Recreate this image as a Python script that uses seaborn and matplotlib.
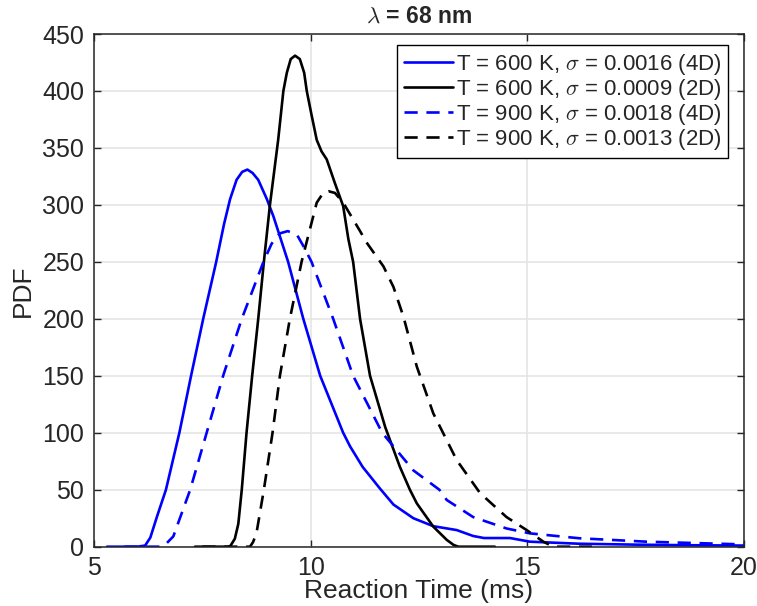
import numpy as np
import pandas as pd
import matplotlib
matplotlib.use("Agg")
import matplotlib.pyplot as plt
import seaborn as sns

# ---- data ----
x_600_4d = [5.3, 6.0, 6.18, 6.3, 6.45, 6.66, 6.97, 7.24, 7.52, 7.82, 8.0, 8.14, 8.29, 8.42, 8.54, 8.66,
            8.79, 8.99, 9.14, 9.48, 9.83, 10.22, 10.75, 10.91, 11.2, 11.6, 11.91, 12.37, 12.83, 13.37,
            13.75, 14.0, 14.6, 15.06, 16.2, 17.5, 18.7, 20.0]
y_600_4d = [0, 0, 1, 8, 26, 50, 100, 150, 200, 250, 283, 305, 322, 329, 331, 328,
            322, 305, 290, 250, 200, 150, 100, 88, 70, 51, 37, 25, 18, 14.6,
            9.4, 7.6, 7.6, 4.4, 2.6, 1.8, 1.3, 1]

x_600_2d = [7.33, 8.1, 8.15, 8.25, 8.33, 8.41, 8.52, 8.65, 8.79, 8.92, 9.06, 9.25, 9.37, 9.45, 9.54,
            9.64, 9.75, 9.85, 9.91, 10.02, 10.14, 10.25, 10.37, 10.56, 10.75, 10.87, 10.98, 11.14,
            11.37, 11.72, 12.06, 12.29, 12.45, 12.83, 13.14, 13.3, 13.41, 14.25]
y_600_2d = [0, 0, 0.8, 7, 20, 50, 100, 150, 200, 250, 300, 357, 400, 416, 428,
            431, 428, 416, 400, 379, 357, 347, 340, 319, 299, 270, 250, 200,
            150, 105, 70, 50, 38, 17.6, 6, 1.5, 0, 0]

x_900_4d = [5.7, 6.52, 6.65, 6.83, 7.22, 7.6, 7.98, 8.41, 8.91, 9.1, 9.29, 9.47, 9.68, 9.83, 10.02,
            10.52, 10.98, 11.65, 12.37, 12.97, 13.14, 13.75, 14.52, 15.06, 16.2, 17.75, 20.0]
y_900_4d = [0, 0, 2, 9, 50, 100, 150, 200, 250, 266, 275, 277, 274, 264, 250,
            200, 150, 100, 67, 50, 41, 26, 16, 11.7, 7.4, 4.4, 2]

x_900_2d = [7.5, 8.6, 8.67, 8.75, 8.92, 9.12, 9.29, 9.52, 9.79, 10.14, 10.29, 10.41, 10.56, 10.75,
            11.14, 11.29, 11.68, 11.91, 12.14, 12.45, 12.83, 13.37, 13.91, 14.52, 14.98, 15.37, 15.6,
            16.49]
y_900_2d = [0, 0, 4, 12, 50, 100, 150, 200, 250, 302, 310.5, 312, 310.5, 302,
            277, 267, 246, 228, 202, 158, 117, 76, 47, 26, 14.7, 4.4, 0,
            0]

labels = [r"T = 600 K, $\sigma$ = 0.0016 (4D)",
          r"T = 600 K, $\sigma$ = 0.0009 (2D)",
          r"T = 900 K, $\sigma$ = 0.0018 (4D)",
          r"T = 900 K, $\sigma$ = 0.0013 (2D)"]
x_ticks = [5, 10, 15, 20]
y_ticks = [0, 50, 100, 150, 200, 250, 300, 350, 400, 450]

# ---- style ----
sns.set_style("ticks")
plt.rcParams["font.family"] = ["Liberation Sans", "DejaVu Sans"]
plt.rcParams["mathtext.fontset"] = "cm"

fig = plt.figure(figsize=(7.57, 6.06), dpi=100)
ax = fig.add_axes([94 / 757, 1 - 546.7 / 606, 650 / 757, 512.7 / 606])

series = [
    (x_600_4d, y_600_4d, "#0000ff", "-"),
    (x_600_2d, y_600_2d, "#000000", "-"),
    (x_900_4d, y_900_4d, "#0000ff", "--"),
    (x_900_2d, y_900_2d, "#000000", "--"),
]
DASH = (5, 3.3)
for (xs, ys, c, ls), lab in zip(series, labels):
    df = pd.DataFrame({"x": xs, "y": ys})
    sns.lineplot(data=df, x="x", y="y", ax=ax, color=c, lw=1.9, label=lab,
                 sort=False, estimator=None)
    line = ax.lines[-1]
    line.set_solid_joinstyle("round")
    line.set_dash_joinstyle("round")
    if ls == "--":
        line.set_dashes(DASH)

ax.set_xlim(5, 20)
ax.set_ylim(0, 450)
ax.set_xticks(x_ticks)
ax.set_yticks(y_ticks)
ax.grid(True, color="#e3e3e3", lw=1.1)
ax.set_axisbelow(True)
for sp in ax.spines.values():
    sp.set_visible(True)
    sp.set_color("#262626")
    sp.set_linewidth(1.1)
ax.tick_params(direction="in", length=5, width=1.0, color="#262626",
               top=True, right=True, labelsize=18, labelcolor="#262626", pad=7)

ax.set_xlabel("Reaction Time (ms)", fontsize=19, color="#262626", labelpad=-1)
ax.set_ylabel("PDF", fontsize=19, color="#262626", labelpad=5)
ax.set_title(r"$\lambda$ = 68 nm", fontsize=16.5, fontweight="bold", pad=8)

leg = ax.legend(loc="upper right", bbox_to_anchor=((728 - 94) / 650, (546.7 - 45) / 512.7),
                borderaxespad=0, fontsize=16, frameon=True, fancybox=False,
                handlelength=2.2, handletextpad=0.14, labelspacing=0.0,
                borderpad=0.3)
leg.get_frame().set_edgecolor("#000000")
leg.get_frame().set_linewidth(1.0)
leg.get_frame().set_alpha(1)
for h in leg.get_lines()[2:]:
    h.set_dashes(DASH)

fig.savefig("out.png", dpi=100)
